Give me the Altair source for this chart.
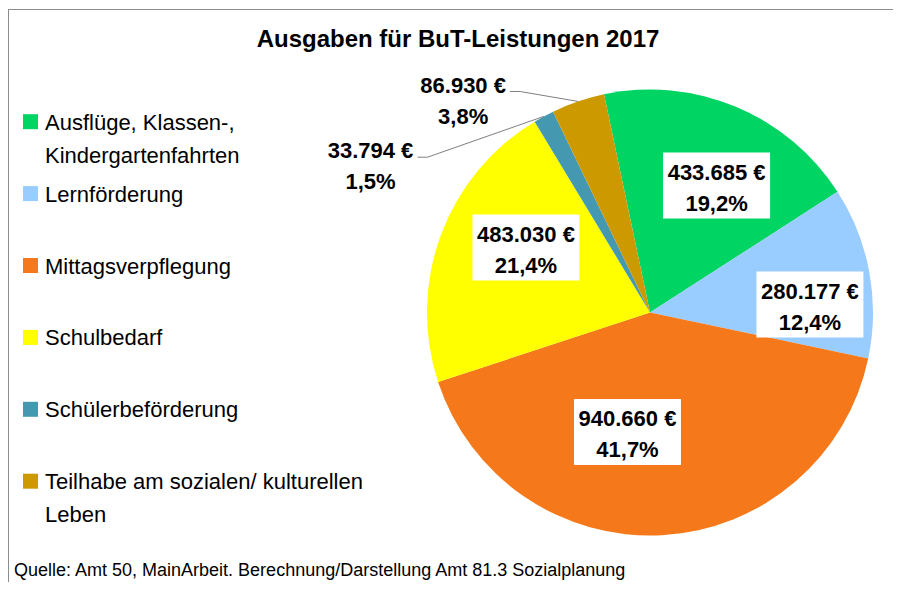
import math
import altair as alt
import pandas as pd

# ---------------- data ----------------
categories = [
    "Ausflüge, Klassen-, Kindergartenfahrten",
    "Lernförderung",
    "Mittagsverpflegung",
    "Schulbedarf",
    "Schülerbeförderung",
    "Teilhabe am sozialen/ kulturellen Leben",
]
legend_labels = [
    "Ausflüge, Klassen-,\nKindergartenfahrten",
    "Lernförderung",
    "Mittagsverpflegung",
    "Schulbedarf",
    "Schülerbeförderung",
    "Teilhabe am sozialen/ kulturellen\nLeben",
]
values = [433685, 280177, 940660, 483030, 33794, 86930]
colors = ["#00D564", "#99CCFF", "#F5791A", "#FFFF00", "#4499B0", "#CC9900"]

title_text = "Ausgaben für BuT-Leistungen 2017"
source_text = "Quelle: Amt 50, MainArbeit. Berechnung/Darstellung Amt 81.3 Sozialplanung"

# ---------------- layout (styling) ----------------
W, H = 885, 574
CX, CY, R = 642, 304.5, 223
START_DEG = -11.9
# label placement (Excel "best fit"): angular nudge from mid-angle, radius fraction
label_nudge = [(5.0, 0.643), (7.6, 0.718), (13.8, 0.545), (7.3, 0.628), (-33.6, 1.419), (-22.3, 1.274)]
label_inside = [True, True, True, True, False, False]
BOX_W, BOX_H = 107, 66
FONT = "Liberation Sans, Arial, Helvetica, sans-serif"

total = sum(values)


def fmt_eur(v):
    return f"{v:,}".replace(",", ".") + " €"


def fmt_pct(v):
    return f"{v / total * 100:.1f}".replace(".", ",") + "%"


rows = []
lbl_rows = []
line_rows = []
cum = 0.0
for i, (cat, v) in enumerate(zip(categories, values)):
    a0 = START_DEG + cum / total * 360
    cum += v
    a1 = START_DEG + cum / total * 360
    mid = (a0 + a1) / 2
    rows.append({"category": cat, "value": v, "order": i,
                 "legend": legend_labels[i], "ly": 113.7 + 71.9 * i})
    da, rf = label_nudge[i]
    ang = math.radians(mid + da)
    lx = CX + rf * R * math.sin(ang)
    ly = CY - rf * R * math.cos(ang)
    lbl_rows.append({"category": cat, "label": fmt_eur(v) + "\n" + fmt_pct(v),
                     "lx": lx, "ly": ly, "inside": label_inside[i],
                     "bx": lx - BOX_W / 2, "bx2": lx + BOX_W / 2,
                     "by": ly - BOX_H / 2, "by2": ly + BOX_H / 2})
    if not label_inside[i]:
        m = math.radians(mid)
        pts = [(lx + 47, ly - 7), (lx + 57, ly - 7),
               (CX + R * math.sin(m), CY - R * math.cos(m))]
        for k, (px, py) in enumerate(pts):
            line_rows.append({"category": cat, "k": k, "px": px, "py": py})

df = pd.DataFrame(rows)
lbl = pd.DataFrame(lbl_rows)
lines = pd.DataFrame(line_rows)
one = pd.DataFrame({"t": [title_text], "s": [source_text]})

color_scale = alt.Scale(domain=categories, range=colors)

pie = alt.Chart(df).mark_arc(outerRadius=R, innerRadius=0).encode(
    theta=alt.Theta("value:Q", stack=True,
                    scale=alt.Scale(domain=[0, total],
                                    range=[math.radians(START_DEG), math.radians(START_DEG) + 2 * math.pi])),
    color=alt.Color("category:N", scale=color_scale, legend=None),
    order=alt.Order("order:Q"),
    x=alt.value(CX),
    y=alt.value(CY),
)

boxes = alt.Chart(lbl).transform_filter("datum.inside").mark_rect(color="white").encode(
    x=alt.X("bx:Q", scale=None), x2="bx2:Q",
    y=alt.Y("by:Q", scale=None), y2="by2:Q",
)

labels = alt.Chart(lbl).mark_text(
    font=FONT, fontSize=22, fontWeight="bold", color="black",
    lineBreak="\n", lineHeight=31, baseline="middle", align="center", dy=-13,
).encode(
    x=alt.X("lx:Q", scale=None), y=alt.Y("ly:Q", scale=None), text="label:N",
)

leaders = alt.Chart(lines).mark_line(color="#7F7F7F", strokeWidth=1).encode(
    x=alt.X("px:Q", scale=None), y=alt.Y("py:Q", scale=None),
    detail="category:N", order="k:Q",
)

legend_sq = alt.Chart(df).mark_square(size=225, opacity=1, filled=True).encode(
    x=alt.value(22.5),
    y=alt.Y("ly:Q", scale=None),
    color=alt.Color("category:N", scale=color_scale, legend=None),
)

legend_txt = alt.Chart(df).transform_calculate(ty="datum.ly + 8").mark_text(
    font=FONT, fontSize=22, color="black", align="left", baseline="alphabetic",
    lineBreak="\n", lineHeight=33,
).encode(
    x=alt.value(37), y=alt.Y("ty:Q", scale=None), text="legend:N",
)

title = alt.Chart(one).mark_text(
    font=FONT, fontSize=24, fontWeight="bold", color="black", align="center", baseline="alphabetic",
).encode(x=alt.value(450), y=alt.value(39), text="t:N")

source = alt.Chart(one).mark_text(
    font=FONT, fontSize=18, color="black", align="left", baseline="alphabetic",
).encode(x=alt.value(6), y=alt.value(568), text="s:N")

frame_top = alt.Chart(one).mark_rule(color="#8C8C8C", strokeWidth=1).encode(
    x=alt.value(0), x2=alt.value(W), y=alt.value(1.5))
frame_left = alt.Chart(one).mark_rule(color="#8C8C8C", strokeWidth=1).encode(
    x=alt.value(0.5), y=alt.value(1), y2=alt.value(H))

chart = alt.layer(
    frame_top, frame_left, pie, leaders, boxes, labels, legend_sq, legend_txt, title, source
).properties(
    width=W, height=H, padding=0,
    autosize=alt.AutoSizeParams(type="none"),
    background="white",
).configure_view(stroke=None)

chart.save("out.html", embed_options={"renderer": "svg", "actions": False})
